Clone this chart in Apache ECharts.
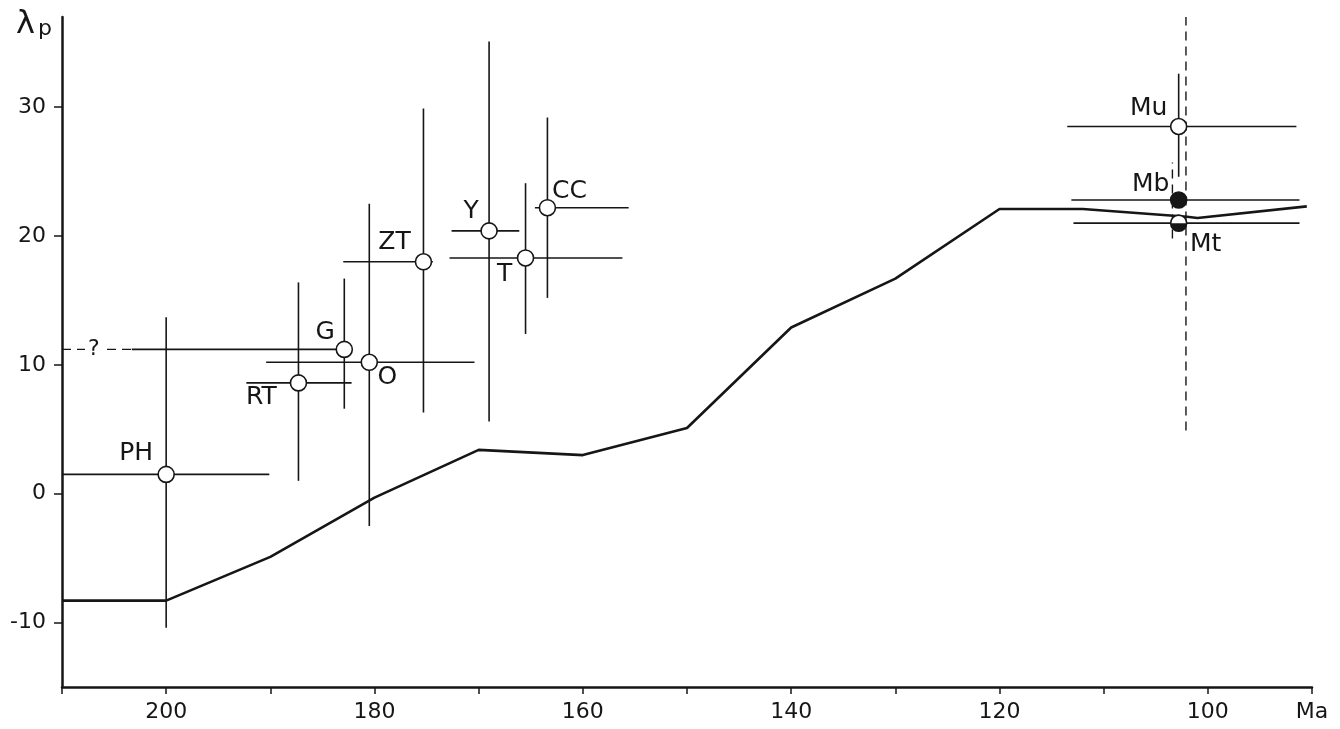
<!DOCTYPE html>
<html>
<head>
<meta charset="utf-8">
<style>
  html, body { margin: 0; padding: 0; background: #fff; }
  #main { width: 1340px; height: 729px; }
</style>
</head>
<body>
<div id="main"></div>
<script src="https://cdn.jsdelivr.net/npm/echarts@6/dist/echarts.min.js"></script>
<script>
    // reference curve (thick line)
    var curveAge = [210, 200, 190, 180, 170, 160, 150, 140, 130, 120, 112, 102, 101, 90.5];
    var curveLam = [-8.3, -8.3, -4.9, -0.3, 3.4, 3.0, 5.1, 12.9, 16.7, 22.1, 22.1, 21.5, 21.4, 22.3];

    // poles with error bars
    var names  = ['PH', 'RT', 'G', 'O', 'ZT', 'Y', 'T', 'CC', 'Mu', 'Mb', 'Mt'];
    var ages   = [200, 187.3, 182.9, 180.5, 175.3, 169.0, 165.5, 163.4, 102.8, 102.8, 102.8];
    var lams   = [1.5, 8.6, 11.2, 10.2, 18.0, 20.4, 18.3, 22.2, 28.5, 22.8, 21.0];
    var ageOld = [210, 192.3, 203.3, 190.4, 183.0, 172.6, 172.8, 164.6, 113.5, 113.1, 112.9];
    var ageYng = [190.1, 182.2, 182.9, 170.4, 174.4, 166.1, 156.2, 155.6, 91.5, 91.2, 91.2];
    var lamLo  = [-10.4, 1.0, 6.6, -2.5, 6.3, 5.6, 12.4, 15.2, 24.6, null, null];
    var lamHi  = [13.7, 16.4, 16.7, 22.5, 29.9, 35.1, 24.1, 29.2, 32.6, null, null];

    // dashed extras: G extension with "?", Mb/Mt bar, long vertical line
    var dashedSegs = [
        [210, 11.2, 203.3, 11.2],
        [103.4, 19.8, 103.4, 25.7],
        [102.1, 4.9, 102.1, 37]
    ];

    var xTicks = [200, 180, 160, 140, 120, 100];
    var yTicks = [-10, 0, 10, 20, 30];

    var FONT = 'DejaVu Sans';
    var INK = '#161616';

    var labelOffsets = {
        PH: [-30, -21], RT: [-37, 15], G: [-19, -17], O: [18, 15], ZT: [-29, -19],
        Y: [-18, -19], T: [-21, 17], CC: [22, -16], Mu: [-30, -18], Mb: [-28, -15], Mt: [27, 21]
    };

    var segs = [];
    for (var i = 0; i < names.length; i++) {
        segs.push([ageOld[i], lams[i], ageYng[i], lams[i]]);
        if (lamLo[i] !== null) segs.push([ages[i], lamLo[i], ages[i], lamHi[i]]);
    }

    function segRenderer(width, dash) {
        return function (params, api) {
            var a = api.coord([api.value(0), api.value(1)]);
            var b = api.coord([api.value(2), api.value(3)]);
            return {
                type: 'line',
                shape: {x1: a[0], y1: a[1], x2: b[0], y2: b[1]},
                style: {stroke: INK, lineWidth: width, lineDash: dash || null}
            };
        };
    }

    var points = names.map(function (n, i) {
        var filled = n === 'Mb';
        return {
            value: [ages[i], lams[i]],
            name: n,
            itemStyle: {color: filled ? INK : '#fff'},
            label: {offset: labelOffsets[n]}
        };
    });

    var halfIdx = names.indexOf('Mt');

    var myChart = echarts.init(document.getElementById('main'));

    var option = {
        backgroundColor: '#fff',
        animation: false,
        grid: {left: 62, right: 28, top: 17, bottom: 42},
        xAxis: {
            type: 'value',
            inverse: true,
            min: 90,
            max: 210,
            interval: 10,
            splitLine: {show: false},
            axisLine: {onZero: false, lineStyle: {color: INK, width: 2.5}},
            axisTick: {length: 7, lineStyle: {color: INK, width: 1.5}},
            axisLabel: {
                margin: 14,
                fontFamily: FONT,
                fontSize: 22,
                color: INK,
                formatter: function (v) {
                    if (v === 90) return 'Ma';
                    return xTicks.indexOf(v) >= 0 ? String(v) : '';
                }
            }
        },
        yAxis: {
            type: 'value',
            min: -15,
            max: 37,
            splitLine: {show: false},
            axisLine: {show: true, onZero: false, lineStyle: {color: INK, width: 2.5}},
            axisTick: {show: true, length: 8, customValues: yTicks, lineStyle: {color: INK, width: 1.5}},
            axisLabel: {
                margin: 16,
                fontFamily: FONT,
                fontSize: 22,
                color: INK,
                customValues: yTicks
            }
        },
        graphic: [{
            type: 'text',
            left: 16,
            top: 9,
            style: {
                text: '{l|λ}{p|p}',
                rich: {
                    l: {fontFamily: FONT, fontSize: 32, fill: INK},
                    p: {fontFamily: FONT, fontSize: 22, fill: INK, padding: [8, 0, 0, 3]}
                }
            }
        }, {
            type: 'text',
            left: 85,
            top: 338,
            z: 10,
            style: {
                text: '?', fontFamily: FONT, fontSize: 22, fill: INK,
                backgroundColor: '#fff', padding: [0, 3]
            }
        }],
        series: [
            {
                type: 'custom',
                renderItem: segRenderer(1.6),
                data: segs,
                z: 2,
                silent: true
            },
            {
                type: 'custom',
                renderItem: segRenderer(1.4, [9, 6]),
                data: dashedSegs,
                z: 2,
                silent: true
            },
            {
                type: 'line',
                data: curveAge.map(function (a, i) { return [a, curveLam[i]]; }),
                showSymbol: false,
                lineStyle: {color: INK, width: 2.6},
                z: 3
            },
            {
                type: 'scatter',
                data: points,
                symbol: 'circle',
                symbolSize: 16,
                itemStyle: {borderColor: INK, borderWidth: 1.6, opacity: 1},
                label: {
                    show: true,
                    position: 'inside',
                    formatter: '{b}',
                    fontFamily: FONT,
                    fontSize: 25,
                    color: INK
                },
                z: 5
            },
            {
                type: 'scatter',
                data: [[ages[halfIdx], lams[halfIdx]]],
                symbol: 'path://M0,0 A10,10 0 0 0 20,0 Z',
                symbolKeepAspect: true,
                symbolSize: 16,
                symbolOffset: [0, '25%'],
                itemStyle: {color: INK, opacity: 1},
                z: 6,
                silent: true
            }
        ]
    };

    myChart.setOption(option);
</script>
</body>
</html>
